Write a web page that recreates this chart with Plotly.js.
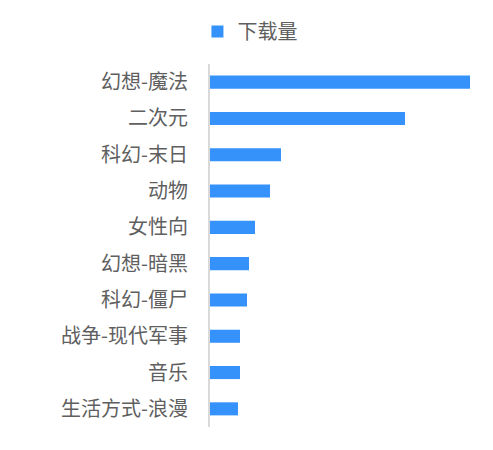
<!DOCTYPE html>
<html>
<head>
<meta charset="utf-8">
<script src="https://cdn.plot.ly/plotly-3.0.1.min.js"></script>
<style>
  html, body { margin: 0; padding: 0; background: #fff; }
  #chart { width: 493px; height: 450px; }
</style>
</head>
<body>
<div id="chart"></div>
<script>
// genres, top to bottom
const genres = ["幻想-魔法", "二次元", "科幻-末日", "动物", "女性向", "幻想-暗黑", "科幻-僵尸", "战争-现代军事", "音乐", "生活方式-浪漫"];
// downloads (arbitrary units)
const downloads = [260, 195, 71, 60, 45, 39, 37, 30, 30, 28];

const seriesName = "下载量";
const barColor = "#3592fa";

const trace = {
    name: seriesName,
    type: "bar",
    orientation: "h",
    x: downloads,
    y: genres,
    width: 0.36,
    marker: { color: barColor },
    showlegend: true,
    hoverinfo: "x+y"
};

const layout = {
    width: 493,
    height: 450,
    margin: { l: 210, r: 13, t: 64, b: 23, pad: 0 },
    paper_bgcolor: "#ffffff",
    plot_bgcolor: "#ffffff",
    font: { family: "Noto Sans CJK SC, sans-serif", size: 20, color: "#5f5f5f" },
    showlegend: true,
    legend: {
        orientation: "h",
        x: 0.507,
        xref: "container",
        xanchor: "center",
        y: 0.93,
        yref: "container",
        yanchor: "middle",
        font: { size: 20, color: "#5f5f5f" },
        itemwidth: 30
    },
    xaxis: {
        range: [0, 270],
        showgrid: false,
        zeroline: false,
        showticklabels: false,
        showline: false,
        fixedrange: true
    },
    yaxis: {
        autorange: "reversed",
        showgrid: false,
        zeroline: false,
        showline: true,
        linecolor: "#d9d9d9",
        linewidth: 2,
        ticks: "",
        ticklabelstandoff: 16,
        tickfont: { size: 20, color: "#5f5f5f" },
        fixedrange: true
    },
    bargap: 0.64
};

Plotly.newPlot("chart", [trace], layout, { displayModeBar: false, staticPlot: true });
</script>
</body>
</html>
